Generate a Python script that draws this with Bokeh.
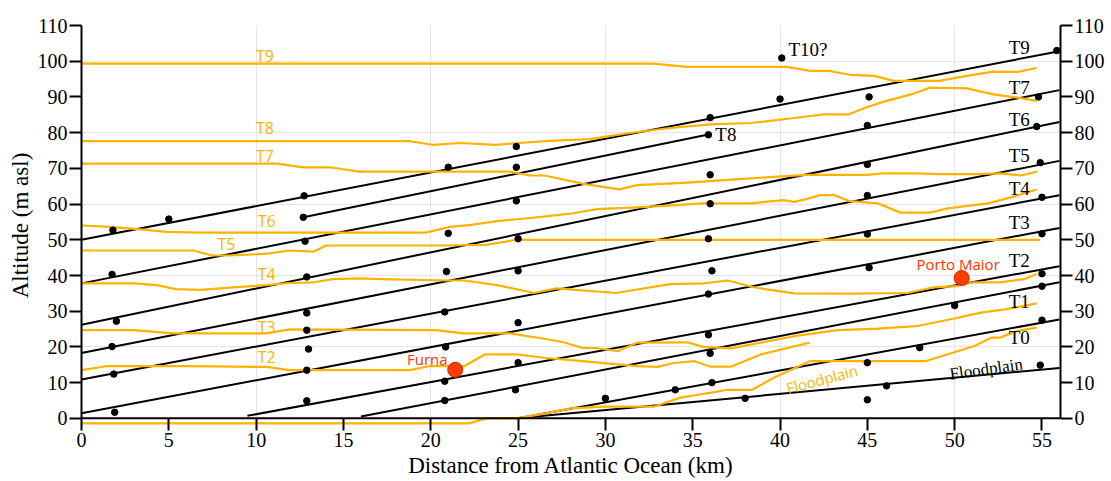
from bokeh.plotting import figure
from bokeh.models import Range1d, LinearAxis, FixedTicker, ColumnDataSource, Span
from bokeh.embed import file_html
from bokeh.resources import INLINE
from bokeh.core.properties import value

# ---------------- data ----------------
x_ticks = [0, 5, 10, 15, 20, 25, 30, 35, 40, 45, 50, 55]
y_ticks = [0, 10, 20, 30, 40, 50, 60, 70, 80, 90, 100, 110]

# terrace regression lines (black)
line_names = ["T9", "T8", "T7", "T6", "T5", "T4", "T3", "T2", "T1", "T0", "Floodplain"]
line_x0 = [0.0, 12.7, 0.0, 0.0, 0.0, 0.0, 0.0, 9.5, 16.0, 25.0, 24.9]
line_y0 = [50.0, 56.3, 37.8, 26.2, 18.3, 10.9, 1.4, 0.7, 0.5, 0.0, 0.0]
line_x1 = [56.0, 35.9, 56.0, 56.0, 56.0, 56.0, 56.0, 56.0, 56.0, 56.0, 56.0]
line_y1 = [102.8, 79.5, 91.9, 83.0, 72.1, 62.5, 53.3, 42.6, 38.1, 27.7, 14.1]

# terrace sample points (black dots)
dot_x = [1.8, 1.75, 2.0, 1.75, 1.85, 1.9,
         5.0,
         12.75, 12.7, 12.8, 12.9, 12.9, 12.9, 13.0, 12.9, 12.9,
         21.0, 21.0, 20.9, 20.8, 20.85, 20.8, 20.8,
         24.9, 24.9, 24.9, 25.0, 25.0, 25.0, 25.0, 24.85,
         30.0, 34.0, 38.0,
         36.0, 35.9, 36.0, 36.0, 35.9, 36.1, 35.9, 35.9, 36.0, 36.1,
         40.0, 40.1,
         45.1, 45.0, 45.0, 45.0, 45.0, 45.1, 45.0, 45.0,
         46.1, 48.0, 50.0,
         54.8, 54.7, 54.9, 55.0, 55.0, 55.0, 55.0, 55.0, 54.9,
         55.85]
dot_y = [52.7, 40.3, 27.2, 20.1, 12.4, 1.7,
         55.8,
         62.3, 56.3, 49.6, 39.6, 29.5, 24.7, 19.4, 13.5, 4.9,
         70.3, 51.8, 41.1, 29.8, 20.0, 10.4, 5.0,
         76.1, 70.3, 60.9, 50.3, 41.3, 26.8, 15.6, 8.0,
         5.6, 8.0, 5.6,
         84.2, 79.4, 68.2, 60.1, 50.3, 41.3, 34.8, 23.4, 18.2, 10.0,
         89.4, 100.9,
         90.0, 82.0, 71.1, 62.4, 51.6, 42.2, 15.6, 5.2,
         9.1, 19.8, 31.6,
         90.0, 81.7, 71.6, 61.9, 51.7, 40.5, 37.0, 27.5, 14.9,
         103.0]

# river-profile terrace surfaces (orange)
t9_x = [0, 32.7, 34.7, 40.4, 41.7, 42.8, 44.0, 45.4, 46.5, 49.1, 50.7, 52.2, 53.6, 54.7]
t9_y = [99.3, 99.3, 98.4, 98.4, 97.3, 97.3, 96.2, 95.9, 94.5, 94.5, 95.9, 97.1, 97.0, 98.1]

t8_x = [0, 18.8, 20.1, 21.7, 23.7, 25.1, 26.5, 29.1, 31.4, 33.7, 36.0, 38.3, 39.3, 40.8,
        42.5, 43.9, 45.0, 46.1, 47.5, 48.6, 50.7, 52.2, 53.6, 54.7]
t8_y = [77.6, 77.6, 76.6, 77.1, 76.6, 77.1, 77.6, 78.2, 79.9, 81.3, 82.3, 82.7, 83.2, 84.1,
        85.1, 85.1, 87.2, 88.9, 90.7, 92.6, 92.4, 90.7, 89.8, 88.9]

t7_x = [0, 11.2, 12.7, 14.2, 15.9, 24.5, 25.7, 26.5, 28.9, 30.8, 31.8, 34.7, 38.3, 41.5,
        45.0, 45.9, 47.7, 49.2, 51.1, 52.6, 53.8, 54.7]
t7_y = [71.3, 71.3, 70.3, 70.3, 69.1, 69.1, 68.0, 68.0, 65.5, 64.1, 65.3, 66.0, 67.2, 68.2,
        68.2, 68.6, 68.6, 68.4, 68.4, 68.6, 68.0, 69.1]

t6_x = [0, 1.6, 3.35, 4.9, 6.8, 19.7, 21.1, 22.3, 23.8, 25.7, 28.0, 29.5, 32.4, 35.6, 38.3,
        40.2, 40.8, 41.5, 42.3, 43.1, 44.0, 45.6, 46.9, 48.6, 49.6, 51.9, 53.4, 54.7]
t6_y = [54.0, 53.6, 52.9, 52.2, 52.0, 52.0, 53.6, 54.2, 55.2, 56.1, 57.3, 58.6, 59.2, 60.2, 60.2,
        61.1, 60.6, 61.4, 62.5, 62.5, 60.8, 60.2, 57.6, 57.6, 58.8, 60.2, 62.1, 64.1]

t5_x = [0, 6.4, 7.5, 8.5, 10.6, 11.9, 13.3, 14.0, 20.7, 23.2, 24.9, 54.9]
t5_y = [47.0, 47.0, 45.6, 45.6, 46.1, 47.0, 46.7, 48.4, 48.4, 48.6, 50.0, 50.0]

t4_x = [0, 3.0, 4.3, 5.4, 6.8, 8.7, 10.6, 11.9, 13.3, 14.4, 15.9, 17.1, 20.9, 21.9, 23.8,
        25.9, 27.2, 30.6, 33.7, 35.6, 37.0, 38.5, 40.8, 44.0, 47.3, 48.8, 50.1, 51.1, 52.6,
        54.0, 54.7]
t4_y = [37.8, 37.8, 37.3, 36.2, 36.0, 36.7, 37.3, 37.9, 38.1, 39.0, 39.2, 39.0, 38.6, 38.6, 37.3,
        35.1, 36.4, 35.1, 37.6, 37.8, 38.6, 36.7, 35.0, 34.9, 35.1, 36.7, 37.0, 38.1, 38.1,
        39.0, 40.4]

t3_x = [0, 3.0, 5.25, 10.6, 11.9, 20.3, 21.9, 24.5, 26.5, 27.6, 28.7, 29.5, 30.7, 31.8, 34.7,
        35.6, 37.2, 38.9, 40.8, 43.3, 45.6, 47.8, 49.9, 51.5, 53.0, 54.7]
t3_y = [24.7, 24.7, 23.8, 23.8, 24.9, 24.7, 23.8, 23.8, 22.3, 21.3, 19.7, 19.7, 18.8, 21.2, 21.3,
        20.0, 19.6, 21.2, 23.0, 24.7, 25.1, 25.8, 27.9, 29.6, 30.6, 32.2]

t2_x = [0, 1.43, 6.0, 10.6, 11.9, 18.8, 19.9, 21.9, 23.1, 24.9, 26.6, 28.7, 31.8, 33.0, 33.9,
        35.1, 36.0, 37.2, 38.9, 41.7]
t2_y = [13.5, 14.6, 14.6, 14.4, 13.5, 13.5, 14.6, 14.6, 17.9, 17.9, 16.9, 16.0, 14.6, 14.4, 15.5,
        16.0, 14.5, 14.5, 17.9, 21.2]

fp_x = [0, 22.2, 23.2, 24.9, 26.6, 28.0, 29.9, 32.8, 34.3, 35.3, 36.4, 36.96, 38.4, 39.7, 41.7,
        48.3, 51.1, 52.1, 52.6, 53.6, 54.7]
fp_y = [-1.4, -1.4, 0.0, 0.0, 1.4, 2.8, 3.3, 3.3, 5.8, 6.6, 7.5, 8.0, 8.0, 11.5, 16.0,
        16.0, 20.2, 22.6, 22.6, 24.5, 25.4]

profiles_x = [t9_x, t8_x, t7_x, t6_x, t5_x, t4_x, t3_x, t2_x, fp_x]
profiles_y = [t9_y, t8_y, t7_y, t6_y, t5_y, t4_y, t3_y, t2_y, fp_y]

# localities (red)
site_names = ["Furna", "Porto Maior"]
site_x = [21.4, 50.4]
site_y = [13.6, 39.3]
site_label_x = [19.8, 50.2]
site_label_y = [16.5, 43.2]

# labels
orange_labels = ["T9", "T8", "T7", "T6", "T5", "T4", "T3", "T2"]
orange_label_x = [10.5, 10.5, 10.5, 10.6, 8.3, 10.6, 10.6, 10.6]
orange_label_y = [101.5, 81.3, 73.6, 55.2, 48.9, 40.3, 25.7, 17.2]

black_labels = ["T9", "T7", "T6", "T5", "T4", "T3", "T2", "T1", "T0", "T8", "T10?"]
black_label_x = [53.7, 53.7, 53.7, 53.7, 53.7, 53.7, 53.7, 53.7, 53.7, 36.9, 41.6]
black_label_y = [103.9, 92.6, 83.7, 73.6, 64.4, 54.8, 44.2, 32.6, 22.6, 79.5, 103.4]

# ---------------- figure ----------------
ORANGE = "#FFB300"
SERIF = "Liberation Serif"
SANS = "Open Sans"

p = figure(width=1108, height=480,
           x_range=Range1d(0, 56.06), y_range=Range1d(-2, 110),
           output_backend="svg", toolbar_location=None,
           x_axis_location=None, y_axis_location=None,
           min_border_left=81, min_border_right=48, min_border_top=25, min_border_bottom=0)
p.outline_line_color = None
p.background_fill_color = "white"
p.border_fill_color = "white"

xaxis = LinearAxis(ticker=FixedTicker(ticks=x_ticks),
                   axis_label="Distance from Atlantic Ocean (km)")
yleft = LinearAxis(ticker=FixedTicker(ticks=y_ticks), axis_label="Altitude (m asl)", bounds=(0, 110))
yright = LinearAxis(ticker=FixedTicker(ticks=y_ticks), bounds=(0, 110))
p.add_layout(xaxis, "below")
p.add_layout(yleft, "left")
p.add_layout(yright, "right")

for ax in (xaxis, yleft, yright):
    ax.axis_line_color = "black"
    ax.axis_line_width = 2
    ax.major_tick_line_color = "black"
    ax.major_tick_line_width = 2
    ax.major_tick_out = 12
    ax.major_tick_in = 0
    ax.minor_tick_out = 0
    ax.minor_tick_in = 0
    ax.major_label_text_font = SERIF
    ax.major_label_text_font_size = "20px"
    ax.major_label_text_color = "black"
    ax.major_label_standoff = 2
    ax.axis_label_text_font = SERIF
    ax.axis_label_text_font_size = "23px"
    ax.axis_label_text_font_style = "normal"
    ax.axis_label_text_color = "black"
    ax.axis_label_standoff = 2

# x axis: its line is drawn at altitude 0 (frame starts a little below 0)
xaxis.axis_line_color = None
xaxis.major_tick_in = 7
xaxis.major_tick_out = 5
xaxis.major_label_standoff = 2
xaxis.axis_label_standoff = 3
p.add_layout(Span(location=0, dimension="width", line_color="black", line_width=2))

# black regression lines
seg_src = ColumnDataSource(dict(x0=line_x0, y0=line_y0, x1=line_x1, y1=line_y1, name=line_names))
p.segment(x0="x0", y0="y0", x1="x1", y1="y1", source=seg_src, line_color="black", line_width=2)

# orange profiles
p.multi_line(xs=profiles_x, ys=profiles_y, line_color=ORANGE, line_width=2.2, line_join="round")

# black dots
p.scatter(dot_x, dot_y, size=6.5, fill_color="black", line_color="black")

# red localities
p.scatter(site_x, site_y, size=15, fill_color="#FF3D00", line_color="#C62800", line_width=1)
p.text(x=site_label_x, y=site_label_y, text=site_names, text_color="#FF3300",
       text_font=value(SANS), text_font_size="15px", text_align="center", text_baseline="middle")

# labels
p.text(x=orange_label_x, y=orange_label_y, text=orange_labels, text_color=ORANGE,
       text_font=value(SANS), text_font_size="16px", text_align="center", text_baseline="middle")
p.text(x=black_label_x, y=black_label_y, text=black_labels, text_color="black",
       text_font=value(SERIF), text_font_size="19px", text_align="center", text_baseline="middle")
p.text(x=[42.4], y=[11.0], text=["Floodplain"], text_color=ORANGE, angle=15, angle_units="deg",
       text_font=value(SANS), text_font_size="15px", text_align="center", text_baseline="middle")
p.text(x=[51.8], y=[13.8], text=["Floodplain"], text_color="black", angle=8, angle_units="deg",
       text_font=value(SERIF), text_font_size="17px", text_align="center", text_baseline="middle")

open("out.html", "w").write(file_html(p, INLINE))
